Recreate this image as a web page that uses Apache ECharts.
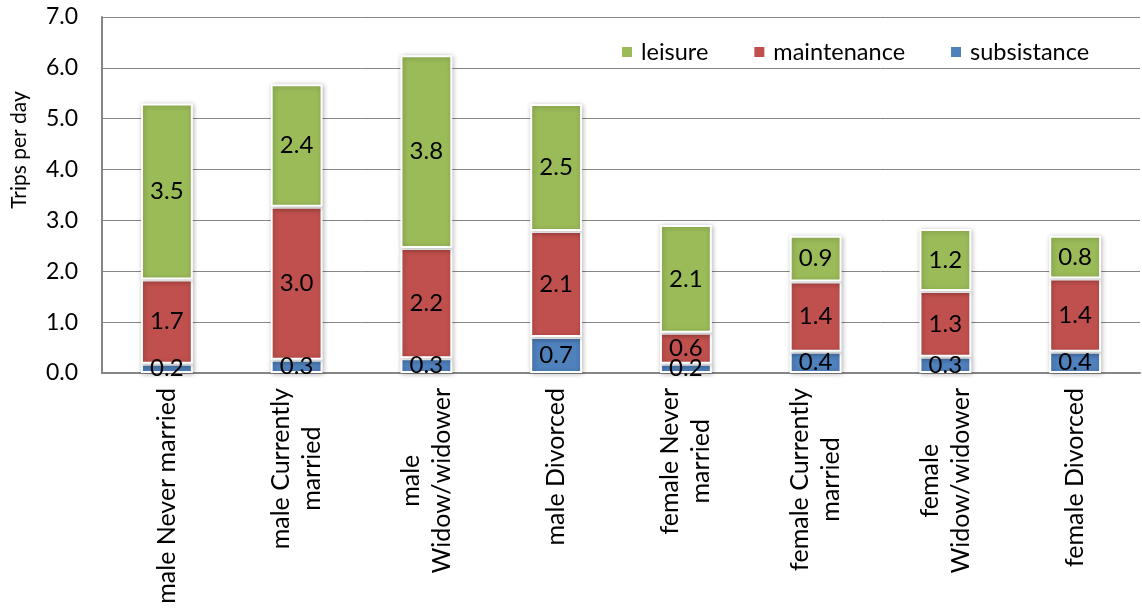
<!DOCTYPE html>
<html>
<head>
<meta charset="utf-8">
<script src="https://cdn.jsdelivr.net/npm/echarts@6/dist/echarts.min.js"></script>
<style>
  html, body { margin: 0; padding: 0; background: #fff; }
  #chart { width: 1142px; height: 609px; }
</style>
</head>
<body>
<div id="chart"></div>
<script>
// Trips per day by sex and marital status, split by trip purpose
const categories = [
  'male Never married',
  'male Currently\nmarried',
  'male\nWidow/widower',
  'male Divorced',
  'female Never\nmarried',
  'female Currently\nmarried',
  'female\nWidow/widower',
  'female Divorced'
];
const subsistance = [0.18, 0.26, 0.29, 0.71, 0.18, 0.42, 0.32, 0.42];
const maintenance = [1.66, 3.01, 2.17, 2.08, 0.61, 1.38, 1.29, 1.44];
const leisure     = [3.46, 2.41, 3.79, 2.50, 2.12, 0.90, 1.22, 0.84];
const yTicks = { min: 0, max: 7, interval: 1 };

const FONT = 'Lato';
const AXIS_GREY = '#868686';

function barSeries(name, data, color) {
  return {
    name: name,
    type: 'bar',
    stack: 'trips',
    data: data,
    barWidth: '40%',
    itemStyle: {
      color: color,
      borderColor: '#ffffff',
      borderWidth: 2,
      shadowColor: 'rgba(0,0,0,0.28)',
      shadowBlur: 5,
      shadowOffsetX: 1,
      shadowOffsetY: 1
    },
    label: {
      show: true,
      position: 'inside',
      formatter: p => p.value.toFixed(1),
      color: '#000',
      fontFamily: FONT,
      fontSize: 24,
      textBorderWidth: 0
    }
  };
}

const chart = echarts.init(document.getElementById('chart'), null, { renderer: 'canvas' });
chart.setOption({
  animation: false,
  backgroundColor: '#ffffff',
  grid: { left: 102, right: 2, top: 17, bottom: 236, containLabel: false },
  legend: {
    left: 615,
    top: 35,
    icon: 'rect',
    itemWidth: 12,
    itemHeight: 12,
    itemGap: 44,
    data: ['leisure', 'maintenance', 'subsistance'],
    textStyle: { fontFamily: FONT, fontSize: 23.5, color: '#000', padding: [0, 0, 0, 3] }
  },
  xAxis: {
    type: 'category',
    data: categories,
    axisLine: { lineStyle: { color: AXIS_GREY, width: 2 } },
    axisTick: { show: false },
    axisLabel: {
      interval: 0,
      rotate: 90,
      margin: 15,
      color: '#000',
      fontFamily: FONT,
      fontSize: 25,
      lineHeight: 31,
      formatter: v => v.split('\n').map(line => '{c|' + line + '}').join('\n'),
      rich: {
        c: { align: 'center', fontFamily: FONT, fontSize: 25, lineHeight: 31, color: '#000' }
      }
    }
  },
  yAxis: {
    type: 'value',
    min: yTicks.min,
    max: yTicks.max,
    interval: yTicks.interval,
    axisLine: { show: true, lineStyle: { color: AXIS_GREY, width: 2 } },
    axisTick: { show: false },
    splitLine: { lineStyle: { color: AXIS_GREY, width: 1 } },
    axisLabel: {
      margin: 24,
      color: '#000',
      fontFamily: FONT,
      fontSize: 23,
      formatter: v => v.toFixed(1)
    }
  },
  graphic: [{
    type: 'text',
    x: 19,
    y: 150,
    rotation: Math.PI / 2,
    style: {
      text: 'Trips per day',
      fontFamily: FONT,
      fontSize: 21,
      fill: '#000',
      align: 'center',
      verticalAlign: 'middle'
    }
  }],
  series: [
    barSeries('subsistance', subsistance, '#4F81BD'),
    barSeries('maintenance', maintenance, '#C0504D'),
    barSeries('leisure', leisure, '#9BBB59')
  ]
});
</script>
</body>
</html>
